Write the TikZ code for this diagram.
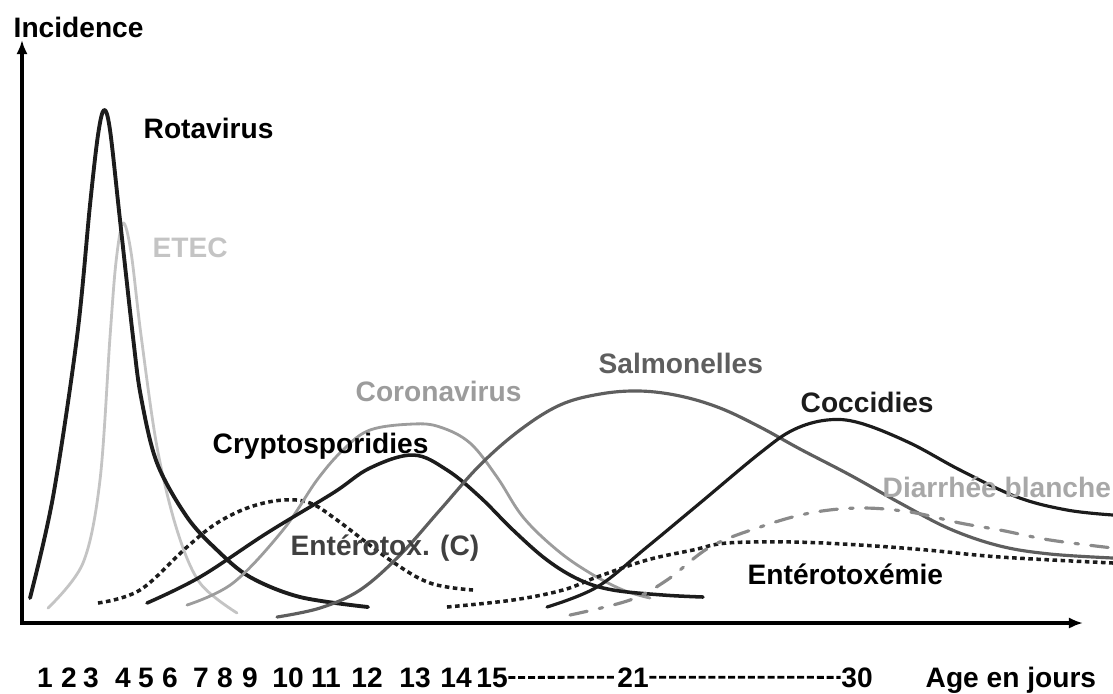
\documentclass[tikz,border=0pt]{standalone}
\usepackage{fontspec}
\setsansfont{Liberation Sans}
\usepackage{xcolor}
\usepackage{tikz}
\usetikzlibrary{calc, arrows.meta}
\definecolor{EtecGray}{HTML}{C4C4C4}
\definecolor{CoronaGray}{HTML}{9C9C9C}
\definecolor{SalmoGray}{HTML}{5E5E5E}
\definecolor{DiarGray}{HTML}{8A8A8A}
\definecolor{DiarText}{HTML}{A8A8A8}
\definecolor{darkInk}{HTML}{1C1C1C}

\begin{document}
\begin{tikzpicture}[x=0.01cm,y=-0.01cm,
  font=\sffamily\bfseries\fontsize{8}{9}\selectfont,
  lab/.style={anchor=base west,inner sep=0pt},
  tick/.style={anchor=base,inner sep=0pt},
  curve/.style={line width=0.9pt,line cap=round,line join=round},
  dotcurve/.style={line width=1pt,dash pattern=on 1.3pt off 1pt},
  axis/.style={line width=0.9pt,-{Latex[length=4pt,width=3.2pt]}}]
  \useasboundingbox (0,0) rectangle (1113,693);
  \coordinate (orig) at (22,623);
  \coordinate (ytop) at (22,40);
  \coordinate (xend) at (1083,623);
  \draw[axis] (orig) -- (ytop);
  \draw[axis] ($(orig)+(-2,0)$) -- (xend);
  \node[lab] (incid) at (13,37) {Incidence};
  % courbes
  \draw[curve,EtecGray,line width=0.8pt] plot[smooth,tension=0.55] coordinates
    {(48,608) (83,563) (100,480) (110,337) (116,262) (123,223) (131,252) (141,335) (157,447) (177,530) (200,583) (237,613)};
  \draw[curve,darkInk,line width=1.1pt] plot[smooth,tension=0.55] coordinates
    {(30,598) (53,497) (77,337) (90,205) (98,135) (104,110) (110,130) (120,220) (133,337) (141,397) (157,463) (187,517) (217,550) (250,577) (300,597) (368,607)};
  \draw[dotcurve,darkInk] plot[smooth,tension=0.6] coordinates
    {(98,603) (140,590) (187,547) (217,523) (250,507) (283,500) (310,503) (337,520) (390,560) (430,583) (473,590)};
  \draw[curve,CoronaGray,line width=0.8pt] plot[smooth,tension=0.6] coordinates
    {(187,605) (233,583) (283,530) (317,480) (343,450) (370,430) (413,424) (440,427) (470,443) (497,477) (523,517) (557,550) (590,573) (623,590) (650,598)};
  \draw[curve,darkInk,line width=1pt] plot[smooth,tension=0.6] coordinates
    {(147,603) (200,577) (267,533) (333,493) (370,468) (413,455) (447,470) (480,497) (513,530) (547,560) (580,580) (613,590) (663,595) (703,597)};
  \draw[curve,SalmoGray] plot[smooth,tension=0.6] coordinates
    {(277,617) (320,608) (360,590) (400,555) (440,510) (480,465) (520,430) (560,405) (600,394) (640,391) (680,396) (720,408) (760,427) (800,449) (850,475) (900,503) (950,529) (1000,546) (1050,554) (1113,558)};
  \draw[dotcurve,darkInk] plot[smooth,tension=0.6] coordinates
    {(447,607) (513,600) (563,590) (597,577) (647,560) (693,550) (727,543) (793,542) (860,545) (927,550) (1000,557) (1113,563)};
  \draw[curve,DiarGray,line width=0.9pt,dash pattern=on 5pt off 3.5pt on 1pt off 3.5pt] plot[smooth,tension=0.6] coordinates
    {(570,615) (630,600) (667,580) (710,547) (760,527) (810,513) (860,508) (910,512) (960,523) (1000,530) (1050,540) (1113,548)};
  \draw[curve,darkInk] plot[smooth,tension=0.6] coordinates
    {(547,607) (597,587) (647,547) (700,503) (760,453) (793,430) (827,420) (860,423) (910,443) (960,470) (1017,497) (1067,510) (1113,515)};
  % etiquettes
  \node[lab] (rota) at (143,138) {Rotavirus};
  \node[lab,text=EtecGray] (etec) at (152,257) {ETEC};
  \node[lab,text=CoronaGray] (corona) at (355,401) {Coronavirus};
  \node[lab,text=SalmoGray] (salmo) at (598,373) {Salmonelles};
  \node[lab,text=darkInk] (cocci) at (800,412) {Coccidies};
  \node[lab] (crypto) at (212,453) {Cryptosporidies};
  \node[lab,text=DiarText] (diar) at (882,497) {Diarrhée blanche};
  \node[lab,text=black!75] (entc) at (290,555) {Entérotox. (C)};
  \node[lab] (entox) at (747,584) {Entérotoxémie};
  \foreach \n/\x in {1/45,2/69,3/91,4/123,5/146,6/170,7/201,8/225,9/250,10/288,11/326,12/367,13/415,14/456,15/492,21/633,30/857}
    \node[tick] (t\n) at (\x,687) {\n};
  \draw[line width=0.8pt,dash pattern=on 2pt off 0.8pt] (t15.east) -- (t21.west);
  \draw[line width=0.8pt,dash pattern=on 2pt off 0.8pt] (t21.east) -- (t30.west);
  \node[lab] (age) at (925,687) {Age en jours};
\end{tikzpicture}
\end{document}
